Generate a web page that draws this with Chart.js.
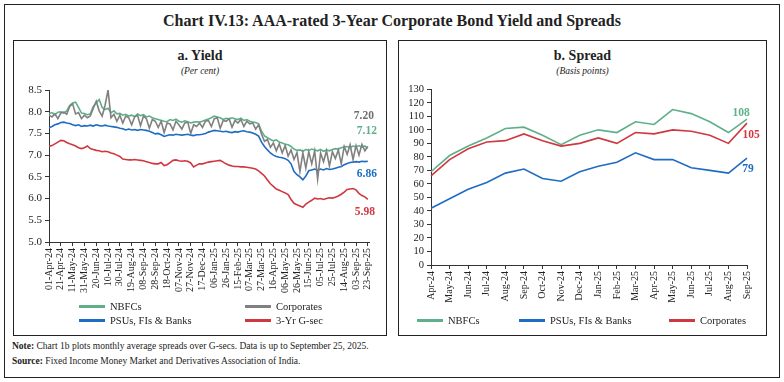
<!DOCTYPE html>
<html>
<head>
<meta charset="utf-8">
<script src="https://cdn.jsdelivr.net/npm/chart.js@4.4.1/dist/chart.umd.min.js"></script>
<style>
  body { margin: 0; background: #fff; font-family: "Liberation Serif", serif; color: #222; }
  #page { position: relative; width: 784px; height: 382px; overflow: hidden; }
  .box { position: absolute; box-sizing: border-box; border: 1px solid #222; }
  .txt { position: absolute; white-space: nowrap; }
  .leg { position: absolute; font-size: 10.5px; white-space: nowrap; line-height: 12px; }
  .leg i { display: inline-block; width: 26px; height: 3px; vertical-align: middle; margin-right: 5px; margin-top: -2px; }
</style>
</head>
<body>
<div id="page">
  <div class="box" style="left:4px;top:4px;width:776px;height:374px;border-width:1.5px;"></div>
  <div class="txt" style="left:0;width:784px;top:12px;text-align:center;font-size:16px;font-weight:bold;">Chart IV.13: AAA-rated 3-Year Corporate Bond Yield and Spreads</div>

  <div class="box" style="left:13px;top:40px;width:374px;height:296px;"></div>
  <div class="txt" style="left:13px;width:374px;top:48px;text-align:center;font-size:14px;font-weight:bold;">a. Yield</div>
  <div class="txt" style="left:13px;width:374px;top:66px;text-align:center;font-size:9.5px;font-style:italic;">(Per cent)</div>

  <div class="box" style="left:398px;top:40px;width:369px;height:296px;"></div>
  <div class="txt" style="left:398px;width:369px;top:48px;text-align:center;font-size:14px;font-weight:bold;">b. Spread</div>
  <div class="txt" style="left:398px;width:369px;top:66px;text-align:center;font-size:9.5px;font-style:italic;">(Basis points)</div>

  <div style="position:absolute;left:14px;top:80px;width:370px;height:222px;"><canvas id="yieldChart"></canvas></div>
  <div style="position:absolute;left:399px;top:80px;width:366px;height:230px;"><canvas id="spreadChart"></canvas></div>

  <div class="leg" style="left:79px;top:301px;"><i style="background:#5fb08a"></i>NBFCs</div>
  <div class="leg" style="left:245px;top:301px;"><i style="background:#808080"></i>Corporates</div>
  <div class="leg" style="left:79px;top:315px;"><i style="background:#1f6cc4"></i>PSUs, FIs &amp; Banks</div>
  <div class="leg" style="left:245px;top:315px;"><i style="background:#d0383f"></i>3-Yr G-sec</div>

  <div class="leg" style="left:417px;top:315px;"><i style="background:#5fb08a"></i>NBFCs</div>
  <div class="leg" style="left:519px;top:315px;"><i style="background:#1f6cc4"></i>PSUs, FIs &amp; Banks</div>
  <div class="leg" style="left:669px;top:315px;"><i style="background:#d0383f"></i>Corporates</div>

  <div class="txt" style="left:12px;top:341px;font-size:9.5px;"><b>Note:</b> Chart 1b plots monthly average spreads over G-secs. Data is up to September 25, 2025.</div>
  <div class="txt" style="left:12px;top:356px;font-size:9.5px;"><b>Source:</b> Fixed Income Money Market and Derivatives Association of India.</div>
</div>

<script>
// ---- panel a: daily yields, read every 5 days from 01-Apr-24 ----
const dayTickLabels = ["01-Apr-24","21-Apr-24","11-May-24","31-May-24","20-Jun-24","10-Jul-24","30-Jul-24",
  "19-Aug-24","08-Sep-24","28-Sep-24","18-Oct-24","07-Nov-24","27-Nov-24","17-Dec-24","06-Jan-25",
  "26-Jan-25","15-Feb-25","07-Mar-25","27-Mar-25","16-Apr-25","06-May-25","26-May-25","15-Jun-25",
  "05-Jul-25","25-Jul-25","14-Aug-25","03-Sep-25","23-Sep-25"];
const sampleStep = 5;

const nbfcYield = [
  7.95,7.98,7.93,7.99,8.00,7.97,8.02,8.14,8.20,8.22,
  8.10,7.97,7.96,7.93,7.95,8.12,8.20,8.28,8.10,8.05,
  8.08,7.98,8.02,7.95,7.96,7.92,7.94,7.90,7.92,7.89,
  7.95,7.91,7.93,7.88,7.90,7.86,7.84,7.82,7.80,7.78,
  7.77,7.82,7.80,7.83,7.78,7.76,7.79,7.77,7.74,7.76,
  7.77,7.76,7.78,7.81,7.83,7.86,7.90,7.88,7.86,7.82,
  7.85,7.83,7.86,7.84,7.82,7.85,7.80,7.82,7.78,7.76,
  7.75,7.72,7.55,7.44,7.40,7.36,7.33,7.35,7.30,7.28,
  7.25,7.24,7.20,7.14,7.11,7.12,7.09,7.13,7.11,7.14,
  7.12,7.10,7.13,7.09,7.12,7.10,7.13,7.15,7.14,7.17,
  7.19,7.20,7.18,7.21,7.19,7.22,7.18,7.21,7.16];
const corpYield = [
  7.92,7.88,7.95,7.84,7.97,7.99,7.94,8.12,8.18,7.95,
  7.98,7.84,7.92,7.86,7.90,8.08,8.24,8.02,7.90,8.15,
  8.50,7.86,7.94,7.78,7.92,7.74,7.90,7.86,7.70,7.88,
  7.92,7.68,7.90,7.84,7.62,7.82,7.78,7.64,7.78,7.52,
  7.74,7.72,7.58,7.78,7.70,7.60,7.74,7.76,7.50,7.70,
  7.66,7.74,7.64,7.78,7.80,7.66,7.84,7.86,7.62,7.80,
  7.78,7.84,7.64,7.80,7.74,7.82,7.66,7.78,7.72,7.74,
  7.60,7.70,7.48,7.32,7.36,7.18,7.28,7.10,7.26,7.05,
  7.22,6.98,7.12,6.90,7.06,6.62,7.05,6.70,7.08,6.80,
  7.10,6.45,7.05,6.85,7.10,6.75,7.08,6.92,7.12,6.80,
  7.20,7.02,7.24,6.90,7.22,7.00,7.25,7.10,7.20];
const psuYield = [
  7.63,7.66,7.70,7.72,7.75,7.76,7.74,7.73,7.70,7.68,
  7.70,7.66,7.68,7.67,7.69,7.67,7.70,7.68,7.67,7.69,
  7.67,7.66,7.65,7.64,7.62,7.61,7.58,7.60,7.58,7.59,
  7.57,7.59,7.58,7.57,7.55,7.52,7.49,7.50,7.47,7.43,
  7.45,7.47,7.46,7.48,7.47,7.46,7.47,7.48,7.46,7.45,
  7.47,7.47,7.48,7.50,7.53,7.55,7.57,7.56,7.55,7.54,
  7.55,7.53,7.52,7.54,7.53,7.55,7.56,7.54,7.53,7.51,
  7.48,7.44,7.30,7.20,7.12,7.05,7.00,6.97,6.95,6.94,
  6.92,6.88,6.80,6.62,6.55,6.50,6.43,6.52,6.64,6.66,
  6.68,6.65,6.68,6.66,6.69,6.67,6.68,6.70,6.72,6.74,
  6.78,6.81,6.83,6.84,6.85,6.84,6.86,6.85,6.86];
const gsecYield = [
  7.20,7.22,7.26,7.30,7.34,7.33,7.29,7.26,7.24,7.21,
  7.17,7.15,7.17,7.21,7.15,7.13,7.11,7.10,7.08,7.09,
  7.08,7.05,7.03,7.00,6.97,6.91,6.90,6.89,6.89,6.90,
  6.89,6.88,6.87,6.85,6.83,6.81,6.80,6.80,6.83,6.76,
  6.78,6.83,6.88,6.89,6.87,6.86,6.87,6.86,6.82,6.73,
  6.77,6.80,6.80,6.82,6.84,6.85,6.86,6.87,6.88,6.84,
  6.80,6.77,6.75,6.74,6.74,6.73,6.73,6.72,6.71,6.70,
  6.68,6.64,6.58,6.52,6.43,6.34,6.28,6.22,6.19,6.16,
  6.13,6.09,5.98,5.89,5.86,5.83,5.80,5.87,5.92,5.96,
  6.01,5.99,6.00,5.98,6.00,6.02,6.01,6.03,6.06,6.10,
  6.15,6.21,6.22,6.23,6.20,6.12,6.07,6.04,5.98];

// ---- panel b: monthly average spreads (bps) ----
const months = ["Apr-24","May-24","Jun-24","Jul-24","Aug-24","Sep-24","Oct-24","Nov-24","Dec-24",
  "Jan-25","Feb-25","Mar-25","Apr-25","May-25","Jun-25","Jul-25","Aug-25","Sep-25"];
const nbfcSpread = [69, 81, 88, 94, 101, 102, 96, 89, 96, 100, 98, 106, 104, 115, 112, 106, 98, 108];
const psuSpread  = [42, 49, 56, 61, 68, 71, 64, 62, 69, 73, 76, 83, 78, 78, 72, 70, 68, 79];
const corpSpread = [66, 78, 86, 91, 92, 97, 92, 88, 90, 94, 90, 98, 97, 100, 99, 96, 90, 105];
const spreadEndLabels = ["108", "79", "105"];

const GREEN = '#5fb08a', GREY = '#808080', BLUE = '#1f6cc4', RED = '#d0383f';
const FONT = "'Liberation Serif', serif";

const toPoints = arr => arr.map((v, i) => ({ x: i * sampleStep, y: v }));

// writes the last value next to each line end
const endLabels = {
  id: 'endLabels',
  afterDatasetsDraw(chart) {
    const ctx = chart.ctx;
    chart.data.datasets.forEach((ds, i) => {
      if (!ds.endLabel) return;
      const pts = chart.getDatasetMeta(i).data;
      const p = pts[pts.length - 1];
      ctx.save();
      ctx.font = "bold 11.5px " + FONT;
      ctx.fillStyle = ds.labelColor || ds.borderColor;
      ctx.textAlign = 'center';
      ctx.textBaseline = 'middle';
      ctx.fillText(ds.endLabel, p.x + ds.labelDx, p.y + ds.labelDy);
      ctx.restore();
    });
  }
};

Chart.defaults.font.family = FONT;
Chart.defaults.color = '#222';

const axisCommon = {
  border: { color: '#333', width: 1 },
  grid: { drawOnChartArea: false, drawTicks: true, tickLength: 4, tickColor: '#333' }
};

const line = (label, data, color, extra) => Object.assign({
  label: label, data: data, borderColor: color, backgroundColor: color,
  borderWidth: 1.6, pointRadius: 0, tension: 0, fill: false
}, extra);

new Chart(document.getElementById('yieldChart'), {
  type: 'line',
  data: {
    datasets: [
      line('3-Yr G-sec', toPoints(gsecYield), RED, { endLabel: '5.98', labelDx: -3, labelDy: 13 }),
      line('Corporates', toPoints(corpYield), GREY, { endLabel: '7.20', labelDx: -4, labelDy: -30, labelColor: '#6e6e6e' }),
      line('PSUs, FIs & Banks', toPoints(psuYield), BLUE, { endLabel: '6.86', labelDx: -1, labelDy: 13 }),
      line('NBFCs', toPoints(nbfcYield), GREEN, { endLabel: '7.12', labelDx: -1, labelDy: -17 })
    ]
  },
  options: {
    responsive: true, maintainAspectRatio: false, animation: false,
    layout: { padding: { top: 10, right: 15, left: 0, bottom: 0 } },
    plugins: { legend: { display: false }, tooltip: { enabled: false } },
    scales: {
      x: Object.assign({
        type: 'linear', min: 0, max: 542,
        afterFit: s => { s.height = 60; },
        ticks: {
          stepSize: 20, includeBounds: false, autoSkip: false, minRotation: 90, maxRotation: 90,
          font: { size: 10 }, padding: 2,
          callback: v => dayTickLabels[v / 20] || ''
        }
      }, axisCommon),
      y: Object.assign({
        min: 5, max: 8.5,
        afterFit: s => { s.width = 35; },
        ticks: { stepSize: 0.5, autoSkip: false, font: { size: 11 }, padding: 3, callback: v => v.toFixed(1) }
      }, axisCommon)
    }
  },
  plugins: [endLabels]
});

new Chart(document.getElementById('spreadChart'), {
  type: 'line',
  data: {
    labels: months,
    datasets: [
      line('Corporates', corpSpread, RED, { endLabel: spreadEndLabels[2], labelDx: 4, labelDy: 12 }),
      line('PSUs, FIs & Banks', psuSpread, BLUE, { endLabel: spreadEndLabels[1], labelDx: 1, labelDy: 11 }),
      line('NBFCs', nbfcSpread, GREEN, { endLabel: spreadEndLabels[0], labelDx: -6, labelDy: -6 })
    ]
  },
  options: {
    responsive: true, maintainAspectRatio: false, animation: false,
    layout: { padding: { top: 5, right: 18, left: 0, bottom: 0 } },
    plugins: { legend: { display: false }, tooltip: { enabled: false } },
    scales: {
      x: Object.assign({
        offset: false,
        afterFit: s => { s.height = 45; },
        ticks: { autoSkip: false, minRotation: 90, maxRotation: 90, font: { size: 10 }, padding: 2 }
      }, axisCommon),
      y: Object.assign({
        min: 0, max: 130,
        afterFit: s => { s.width = 32; },
        ticks: { stepSize: 10, autoSkip: false, font: { size: 10.5 }, padding: 3 }
      }, axisCommon)
    }
  },
  plugins: [endLabels]
});
</script>
</body>
</html>
